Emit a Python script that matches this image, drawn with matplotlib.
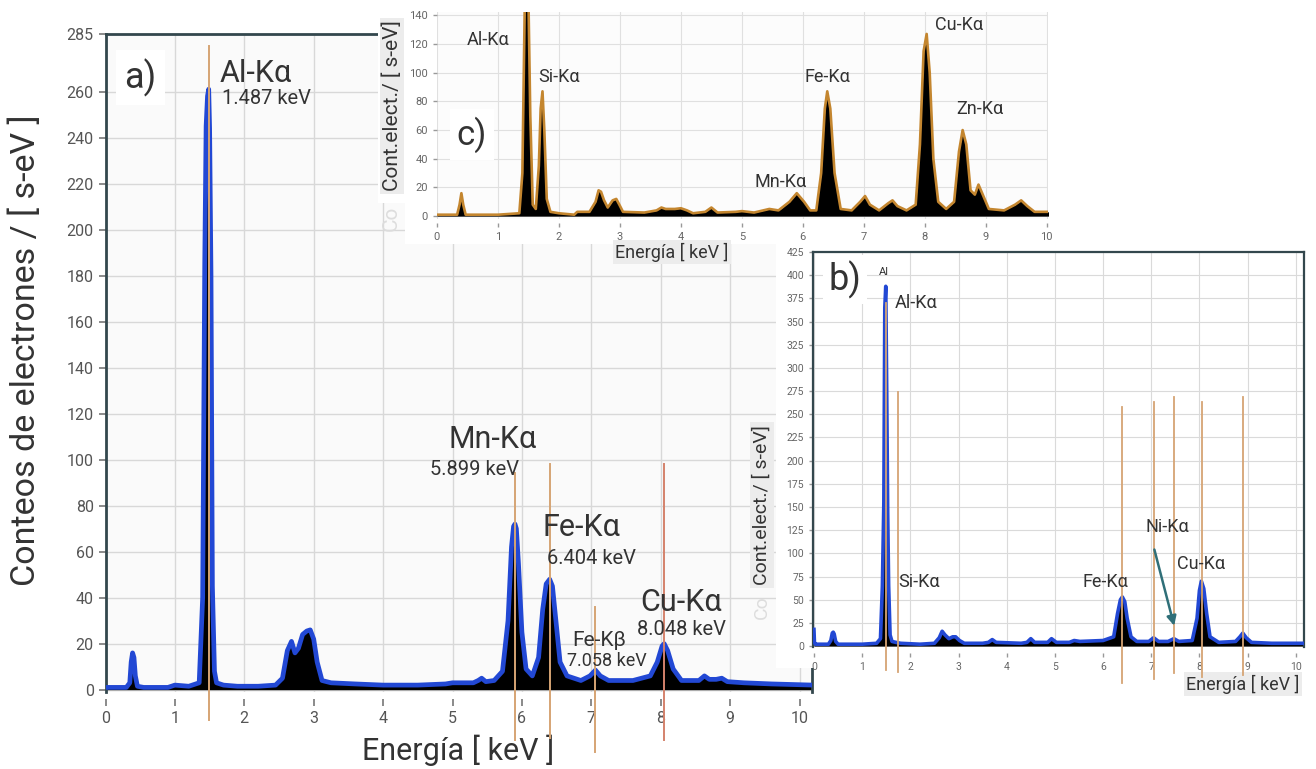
import matplotlib
matplotlib.use('Agg')
import matplotlib.pyplot as plt
from matplotlib.patches import Rectangle

plt.rcParams['font.family'] = ['Roboto', 'DejaVu Sans']

# ---- espectro a) (Mn-Fe-Cu)
E_a = [0.00, 0.30, 0.35, 0.37, 0.39, 0.41, 0.43, 0.46, 0.55, 0.90,
       1.00, 1.20, 1.35, 1.40, 1.43, 1.45, 1.47, 1.487, 1.50, 1.52,
       1.54, 1.57, 1.60, 1.70, 1.90, 2.20, 2.45, 2.55, 2.62, 2.68,
       2.73, 2.78, 2.84, 2.90, 2.95, 3.00, 3.05, 3.12, 3.25, 3.60,
       4.00, 4.50, 4.90, 5.00, 5.30, 5.37, 5.42, 5.48, 5.60, 5.72,
       5.80, 5.85, 5.88, 5.90, 5.92, 5.95, 6.00, 6.06, 6.15, 6.24,
       6.30, 6.35, 6.40, 6.44, 6.49, 6.55, 6.65, 6.85, 6.98, 7.06,
       7.13, 7.25, 7.60, 7.85, 7.95, 8.02, 8.05, 8.10, 8.18, 8.30,
       8.55, 8.63, 8.70, 8.80, 8.88, 8.96, 9.20, 9.60, 10.20]
I_a = [1, 1, 3, 12, 16, 14, 6, 1.5, 1, 1,
       2, 1.5, 3, 40, 185, 245, 258, 261, 244, 180,
       45, 8, 3, 2, 1.5, 1.5, 2, 5, 17, 21,
       16, 18, 24, 25.5, 26, 22, 12, 4, 3, 2.5,
       2, 2, 2.5, 3, 3, 4, 5, 3.5, 4, 8,
       30, 62, 71, 72, 70, 55, 25, 9, 6, 14,
       35, 46, 48, 45, 30, 12, 6, 4, 6, 8.5,
       6, 4, 4, 6, 12, 19, 20, 17, 9, 4,
       4, 6, 4.5, 4.5, 5, 3.5, 3, 2.5, 2]
lines_a = [1.487, 5.899, 6.404, 7.058, 8.048]
lines_a_top = [280, 94, 98, 36, 98]
lines_a_bot = [-13, -22, -21, -27, -22]

# ---- espectro b)
E_b = [0.00, 0.01, 0.03, 0.30, 0.35, 0.38, 0.40, 0.42, 0.45, 0.50,
       1.00, 1.30, 1.38, 1.42, 1.45, 1.47, 1.49, 1.51, 1.53, 1.55,
       1.58, 1.62, 1.70, 1.80, 2.20, 2.50, 2.60, 2.66, 2.72, 2.80,
       2.88, 2.94, 3.02, 3.12, 3.50, 3.62, 3.70, 3.78, 4.30, 4.42,
       4.50, 4.58, 4.85, 4.93, 5.03, 5.30, 5.40, 5.52, 6.00, 6.22,
       6.30, 6.36, 6.40, 6.45, 6.50, 6.58, 6.70, 6.95, 7.05, 7.15,
       7.35, 7.47, 7.57, 7.85, 7.95, 8.00, 8.04, 8.09, 8.15, 8.22,
       8.40, 8.75, 8.84, 8.90, 8.97, 9.08, 9.50, 10.20]
I_b = [18, 4, 2, 2, 6, 14, 15, 13, 5, 2,
       2, 3, 8, 65, 155, 365, 388, 275, 145, 65,
       12, 5, 4, 3, 2, 3, 9, 16, 12, 8,
       10, 10, 6, 3, 3, 4, 7, 4, 3, 4,
       8, 4, 4, 8, 4, 4, 6, 5, 6, 10,
       35, 50, 53, 48, 30, 10, 5, 5, 9, 5,
       5, 8, 5, 6, 30, 60, 70, 62, 35, 10,
       4, 5, 10, 14, 9, 4, 3, 3]
lines_b = [1.487, 1.74, 6.40, 7.06, 7.47, 8.05, 8.90]
lines_b_top = [370, 274, 258, 263, 269, 263, 269]
lines_b_bot = [-26, -28, -40, -36, -29, -33, -31]

# ---- espectro c)
E_c = [0.00, 0.33, 0.37, 0.40, 0.43, 0.47, 1.00, 1.35, 1.40, 1.44,
       1.47, 1.50, 1.53, 1.57, 1.62, 1.67, 1.70, 1.73, 1.76, 1.80,
       1.86, 2.00, 2.25, 2.30, 2.50, 2.60, 2.65, 2.69, 2.74, 2.80,
       2.88, 2.94, 2.99, 3.05, 3.40, 3.60, 3.68, 3.75, 3.90, 4.00,
       4.10, 4.20, 4.40, 4.50, 4.60, 4.90, 5.00, 5.20, 5.35, 5.45,
       5.60, 5.78, 5.90, 6.02, 6.12, 6.22, 6.30, 6.36, 6.40, 6.45,
       6.52, 6.62, 6.80, 6.94, 7.02, 7.10, 7.25, 7.40, 7.47, 7.55,
       7.70, 7.85, 7.92, 7.98, 8.03, 8.08, 8.14, 8.22, 8.35, 8.48,
       8.56, 8.62, 8.68, 8.75, 8.82, 8.88, 8.95, 9.05, 9.30, 9.48,
       9.58, 9.68, 9.80, 10.05]
I_c = [1, 1, 8, 16, 8, 1, 1, 2, 30, 150,
       150, 150, 70, 8, 5, 35, 75, 87, 60, 12,
       3, 2, 1, 3, 3, 10, 18, 17, 11, 6,
       11, 12, 8, 3, 2.5, 4, 6, 5, 5, 5.5,
       4, 2, 3, 6, 2.5, 3, 3.5, 2.5, 4, 5,
       4, 10, 16, 10, 4, 4, 30, 75, 87, 75,
       30, 5, 4, 10, 14, 8, 4, 9, 11, 7,
       4, 8, 50, 115, 127, 100, 40, 10, 5, 10,
       45, 60, 50, 18, 15, 22, 15, 5, 4, 8,
       11, 7, 3, 3]

W, H = 1316, 769
def fx(px):
    return px / W
def fy(py):
    return 1 - py / H
def box(l, t, r, b):
    return [fx(l), fy(b), (r - l) / W, (b - t) / H]

SPINE = '#33474d'
TXT = '#333333'
ORANGE = '#d6a474'
BLUE = '#2248d4'

fig = plt.figure(figsize=(13.16, 7.69), dpi=100)

def spectrum(ax, E, I, edge, lw):
    ax.fill_between(E, I, 0, color='black', lw=0, zorder=2)
    ax.plot(E, I, color=edge, lw=lw, zorder=3, solid_joinstyle='round')

# ================= a)
ax_a = fig.add_axes(box(105.5, 34, 812, 692))
ax_a.set_zorder(1)
ax_a.set_facecolor('#fafafa')
spectrum(ax_a, E_a, I_a, BLUE, 3.4)
for x, t, b in zip(lines_a, lines_a_top, lines_a_bot):
    c = '#d4826c' if x > 8 else ORANGE
    ax_a.plot([x, x], [b, t], color=c, lw=1.4, zorder=4, clip_on=False)
ax_a.set_xlim(0, 10.18)
ax_a.set_ylim(-1, 285)
ax_a.set_xticks(range(11))
ax_a.set_yticks(list(range(0, 261, 20)) + [285])
ax_a.grid(color='#d8d8d8', lw=1)
ax_a.set_axisbelow(True)
for s in ['left', 'top', 'right']:
    ax_a.spines[s].set_color(SPINE)
    ax_a.spines[s].set_linewidth(2)
ax_a.spines['bottom'].set_visible(False)
ax_a.spines['bottom'].set_position(('outward', 5))
ax_a.tick_params(color='#777777', labelcolor='#555555', labelsize=11.5,
                 length=5, width=1.2)
ax_a.text(0.50, 266, 'a)', fontsize=26, color=TXT, ha='center', va='center',
          bbox=dict(fc='white', ec='none', pad=6), zorder=5)
for s, x, y, fs in [('Al-Kα', 1.65, 268, 22), ('1.487 keV', 1.68, 257, 14.5),
                    ('Mn-Kα', 4.94, 108.7, 22), ('5.899 keV', 4.68, 95.6, 14.5),
                    ('Fe-Kα', 6.29, 70.4, 22), ('6.404 keV', 6.36, 57, 14.5),
                    ('Fe-Kβ', 6.72, 21.3, 15), ('7.058 keV', 6.65, 12.6, 13),
                    ('Cu-Kα', 7.70, 37.8, 22), ('8.048 keV', 7.66, 26, 14.5)]:
    ax_a.text(x, y, s, fontsize=fs, color=TXT, ha='left', va='center', zorder=5)
ax_a.text(fx(26), fy(350), 'Conteos de electrones / [ s-eV ]', transform=fig.transFigure,
          rotation=90, fontsize=24.5, color=TXT, ha='center', va='center')
ax_a.text(fx(458), fy(750), 'Energía [ keV ]', transform=fig.transFigure,
          fontsize=22, color=TXT, ha='center', va='center')

# ================= c)
for l, t, r, b in [(378, 0, 1055, 203), (405, 203, 1055, 244)]:
    fig.add_artist(Rectangle((fx(l), fy(b)), (r - l) / W, (b - t) / H,
                             transform=fig.transFigure, fc='white', ec='none', zorder=2))
ax_c = fig.add_axes(box(437, 12, 1048, 219))
ax_c.set_zorder(3)
ax_c.set_facecolor('#fcfcfc')
spectrum(ax_c, E_c, I_c, '#c4862f', 1.9)
ax_c.set_xlim(0, 10.02)
ax_c.set_ylim(-2, 142.3)
ax_c.set_xticks(range(11))
ax_c.set_yticks(range(0, 141, 20))
ax_c.grid(color='#e0e0e0', lw=0.8)
ax_c.set_axisbelow(True)
for s in ax_c.spines.values():
    s.set_visible(False)
ax_c.spines['bottom'].set_position(('outward', 3))
ax_c.tick_params(color='#999999', labelcolor='#666666', labelsize=8,
                 length=3, width=1)
ax_c.text(0.57, 57, 'c)', fontsize=25, color=TXT, ha='center', va='center',
          bbox=dict(fc='white', ec='none', pad=5), zorder=5)
for s, x, y in [('Al-Kα', 0.49, 123), ('Si-Kα', 1.66, 97), ('Fe-Kα', 6.03, 97),
                ('Mn-Kα', 5.21, 24), ('Cu-Kα', 8.16, 133), ('Zn-Kα', 8.52, 75)]:
    ax_c.text(x, y, s, fontsize=13, color=TXT, ha='left', va='center', zorder=5)
ax_c.text(fx(392), fy(106), 'Cont.elect./ [ s-eV]', transform=fig.transFigure,
          rotation=90, fontsize=15, color=TXT, ha='center', va='center',
          bbox=dict(fc='#ececec', ec='none', pad=2))
ax_c.text(fx(391), fy(218), 'Co', transform=fig.transFigure, rotation=90,
          fontsize=15, color='#dddddd', ha='center', va='center')
ax_c.text(fx(672), fy(252), 'Energía [ keV ]', transform=fig.transFigure,
          fontsize=13, color=TXT, ha='center', va='center',
          bbox=dict(fc='#ececec', ec='none', pad=2))

# ================= b)
fig.add_artist(Rectangle((fx(776), fy(668)), (1316 - 776) / W, (668 - 243) / H,
                         transform=fig.transFigure, fc='white', ec='none', zorder=4))
ax_b = fig.add_axes(box(813, 252, 1304, 647))
ax_b.set_zorder(5)
ax_b.set_facecolor('white')
spectrum(ax_b, E_b, I_b, BLUE, 2.6)
for x, t, b in zip(lines_b, lines_b_top, lines_b_bot):
    ax_b.plot([x, x], [b, t], color=ORANGE, lw=1.3, zorder=4, clip_on=False)
ax_b.set_xlim(-0.02, 10.17)
ax_b.set_ylim(-1, 425)
ax_b.set_xticks(range(11))
ax_b.set_yticks(range(0, 426, 25))
ax_b.grid(color='#dadada', lw=0.8)
ax_b.set_axisbelow(True)
for s in ['left', 'top', 'right']:
    ax_b.spines[s].set_color(SPINE)
    ax_b.spines[s].set_linewidth(1.6)
ax_b.spines['bottom'].set_visible(False)
ax_b.spines['bottom'].set_position(('outward', 4))
ax_b.tick_params(color='#999999', labelcolor='#666666', labelsize=7.5,
                 length=3, width=1)
ax_b.text(0.65, 395, 'b)', fontsize=26, color=TXT, ha='center', va='center',
          bbox=dict(fc='white', ec='none', pad=4), zorder=5)
ax_b.text(1.45, 403, 'Al', fontsize=8, color=TXT, ha='center', va='center', zorder=5)
for s, x, y in [('Al-Kα', 1.68, 370), ('Si-Kα', 1.74, 69), ('Fe-Kα', 5.58, 69),
                ('Ni-Kα', 6.89, 128), ('Cu-Kα', 7.53, 88)]:
    ax_b.text(x, y, s, fontsize=13, color=TXT, ha='left', va='center', zorder=5)
ax_b.annotate('', xy=(7.49, 19), xytext=(7.05, 107),
              arrowprops=dict(arrowstyle='-|>', color='#2f6f78', lw=1.8,
                              mutation_scale=14), zorder=6)
ax_b.text(fx(762), fy(505), 'Cont.elect./ [ s-eV]', transform=fig.transFigure,
          rotation=90, fontsize=14, color=TXT, ha='center', va='center',
          bbox=dict(fc='#ececec', ec='none', pad=2))
ax_b.text(fx(762), fy(607), 'Co', transform=fig.transFigure, rotation=90,
          fontsize=14, color='#dddddd', ha='center', va='center')
ax_b.text(fx(1243), fy(684), 'Energía [ keV ]', transform=fig.transFigure,
          fontsize=13, color=TXT, ha='center', va='center',
          bbox=dict(fc='#ececec', ec='none', pad=2))

fig.savefig('out.png', dpi=100)
